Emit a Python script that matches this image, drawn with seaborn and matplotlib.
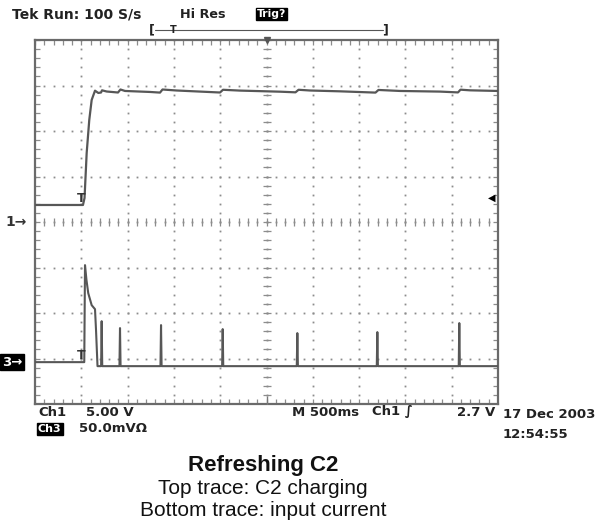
import matplotlib

matplotlib.use("Agg")
import matplotlib.pyplot as plt
import numpy as np
import pandas as pd
import seaborn as sns
from matplotlib.lines import Line2D

# ---- readings from the scope screen ----
# Ch1 (top trace), time in s, volts (5.00 V/div, ground at centre line)
ch1_time = [0.000, 0.518, 0.535, 0.558, 0.586, 0.612, 0.648, 0.684, 0.713, 0.724,
            0.774, 0.896, 0.923, 0.972, 1.242, 1.350, 1.377, 1.530, 1.998, 2.030,
            2.214, 2.646, 2.813, 2.846, 2.970, 3.294, 3.677, 3.709, 3.942, 4.374,
            4.568, 4.595, 4.698, 5.000]
ch1_volts = [1.87, 1.87, 2.64, 7.58, 11.21, 13.41, 14.43, 14.18, 14.23, 14.47,
             14.34, 14.23, 14.56, 14.40, 14.29, 14.22, 14.56, 14.45, 14.23, 14.53,
             14.44, 14.32, 14.25, 14.53, 14.45, 14.36, 14.22, 14.51, 14.40, 14.33,
             14.24, 14.54, 14.47, 14.40]

# Ch3 (bottom trace), inrush part then the refresh spikes, in mV (50 mV/div)
ch3_time = [0.000, 0.532, 0.540, 0.556, 0.575, 0.612, 0.648, 0.659, 0.675]
ch3_mv = [0.0, 0.0, 106.6, 90.1, 75.8, 62.6, 58.2, 35.2, -4.4]
spike_times = [0.720, 0.918, 1.361, 2.027, 2.833, 3.697, 4.582]
spike_peaks_mv = [45.0, 37.4, 40.7, 36.3, 31.9, 33.0, 42.9]
ch3_floor_mv = -4.4

CH1_VOLTS_PER_DIV = 5.0
CH3_MV_PER_DIV = 50.0
CH3_POSITION_DIV = -3.08
SWEEP_S = 5.0
TRIG_LEVEL_V = 2.7

# build the bottom trace polyline
t3 = list(ch3_time)
v3 = list(ch3_mv)
for ts, pk in zip(spike_times, spike_peaks_mv):
    t3 += [ts - 0.006, ts, ts + 0.006]
    v3 += [ch3_floor_mv, pk, ch3_floor_mv]
t3.append(SWEEP_S)
v3.append(ch3_floor_mv)

top = pd.DataFrame({"t": ch1_time, "div": np.array(ch1_volts) / CH1_VOLTS_PER_DIV})
bottom = pd.DataFrame({"t": t3, "div": np.array(v3) / CH3_MV_PER_DIV + CH3_POSITION_DIV})

sns.set_style("white")
plt.rcParams["font.family"] = ["DejaVu Sans"]

W, H = 605, 524
fig = plt.figure(figsize=(W / 100, H / 100), dpi=100)
ax = fig.add_axes([35 / W, 1 - 404 / H, 463 / W, 364 / H])


def px(x, y):
    return x / W, 1 - y / H


grid_col = "#8c8c8c"
trace_col = "#575757"
txt_col = "#222222"

# graticule dots
minor_t = np.linspace(0, SWEEP_S, 51)
minor_y = np.linspace(-4, 4, 41)
for k in range(1, 10):
    gx = k * SWEEP_S / 10
    ax.plot(np.full_like(minor_y, gx), minor_y, ls="none", marker="s", ms=1.3,
            color=grid_col, mew=0, zorder=1)
for k in range(-3, 4):
    ax.plot(minor_t, np.full_like(minor_t, k), ls="none", marker="s", ms=1.3,
            color=grid_col, mew=0, zorder=1)

# centre line ticks
ax.plot(minor_t, np.zeros_like(minor_t), ls="none", marker="|", ms=6, mew=0.9,
        color=grid_col, zorder=1)
ax.plot(np.full_like(minor_y, SWEEP_S / 2), minor_y, ls="none", marker="_", ms=6,
        mew=0.9, color=grid_col, zorder=1)
# border ticks (inner half visible)
for yy in (-4, 4):
    ax.plot(minor_t, np.full_like(minor_t, yy), ls="none", marker="|", ms=7,
            mew=0.9, color=grid_col, zorder=1)
for xx in (0, SWEEP_S):
    ax.plot(np.full_like(minor_y, xx), minor_y, ls="none", marker="_", ms=7,
            mew=0.9, color=grid_col, zorder=1)
# horizontal position markers at the middle of top and bottom edges
ax.plot([SWEEP_S / 2], [4], marker="v", ms=4, color="#555555", clip_on=False, zorder=4)
ax.plot([SWEEP_S / 2], [-4], marker="|", ms=12, mew=1.0, color="#777777", zorder=4)

sns.lineplot(data=top, x="t", y="div", sort=False, estimator=None, color=trace_col,
             linewidth=1.6, ax=ax, zorder=3)
sns.lineplot(data=bottom, x="t", y="div", sort=False, estimator=None, color=trace_col,
             linewidth=1.5, ax=ax, zorder=3)

ax.set_xlim(0, SWEEP_S)
ax.set_ylim(-4, 4)
ax.set_xticks([])
ax.set_yticks([])
ax.set_xlabel("")
ax.set_ylabel("")
for s in ax.spines.values():
    s.set_color("#6a6a6a")
    s.set_linewidth(1.6)

# trigger markers on both traces
ax.text(0.50, top["div"].iloc[0], "T", ha="center", va="bottom", fontsize=9,
        fontweight="bold", color="#333333", zorder=4)
ax.text(0.50, CH3_POSITION_DIV, "T", ha="center", va="bottom", fontsize=9,
        fontweight="bold", color="#333333", zorder=4)
# trigger level marker on right
ax.text(SWEEP_S - 0.03, TRIG_LEVEL_V / CH1_VOLTS_PER_DIV, "\u25C0", ha="right",
        va="center", fontsize=7, color="black", zorder=4)

# channel ground markers on the left
fig.text(*px(5, 222), "1\u2192", ha="left", va="center", fontsize=10,
         fontweight="bold", color="#333333")
fig.text(*px(2, 362), "3\u2192", ha="left", va="center", fontsize=9.5,
         fontweight="bold", color="white",
         bbox=dict(boxstyle="square,pad=0.12", fc="black", ec="black"))

# header
fig.text(*px(12, 14), "Tek Run: 100 S/s", ha="left", va="center", fontsize=10,
         fontweight="bold", color=txt_col)
fig.text(*px(180, 14), "Hi Res", ha="left", va="center", fontsize=9.2,
         fontweight="bold", color=txt_col)
fig.text(*px(257, 14), "Trig?", ha="left", va="center", fontsize=7.8,
         fontweight="bold", color="white",
         bbox=dict(boxstyle="square,pad=0.1", fc="black", ec="black"))
fig.text(*px(149, 30), "[", ha="left", va="center", fontsize=9, fontweight="bold",
         color=txt_col)
fig.text(*px(388, 30), "]", ha="right", va="center", fontsize=9, fontweight="bold",
         color=txt_col)
fig.add_artist(Line2D([155 / W, 383 / W], [1 - 30 / H, 1 - 30 / H], color="#555555",
                      lw=0.8))
fig.text(*px(173, 30), "T", ha="center", va="center", fontsize=7, fontweight="bold",
         color=txt_col)

# footer readouts
foot = dict(fontsize=9.5, fontweight="bold", color=txt_col, va="center")
fig.text(*px(38, 412), "Ch1", ha="left", **foot)
fig.text(*px(86, 412), "5.00 V", ha="left", **foot)
fig.text(*px(292, 412), "M 500ms", ha="left", **foot)
fig.text(*px(372, 412), "Ch1 \u222B", ha="left", **foot)
fig.text(*px(495, 412), "2.7 V", ha="right", **foot)
fig.text(*px(38, 429), "Ch3", ha="left", fontsize=8, fontweight="bold",
         color="white", va="center",
         bbox=dict(boxstyle="square,pad=0.1", fc="black", ec="black"))
fig.text(*px(79, 429), "50.0mV\u03A9", ha="left", **foot)
fig.text(*px(503, 415), "17 Dec 2003", ha="left", **foot)
fig.text(*px(503, 434), "12:54:55", ha="left", **foot)

# caption
cap = ["Liberation Sans", "DejaVu Sans"]
fig.text(*px(263, 466), "Refreshing C2", ha="center", va="center", fontsize=16,
         fontweight="bold", family=cap, color="#111111")
fig.text(*px(263, 489), "Top trace: C2 charging", ha="center", va="center",
         fontsize=15, family=cap, color="#111111")
fig.text(*px(263, 511), "Bottom trace: input current", ha="center", va="center",
         fontsize=15, family=cap, color="#111111")

fig.savefig("out.png", dpi=100)
plt.close(fig)
